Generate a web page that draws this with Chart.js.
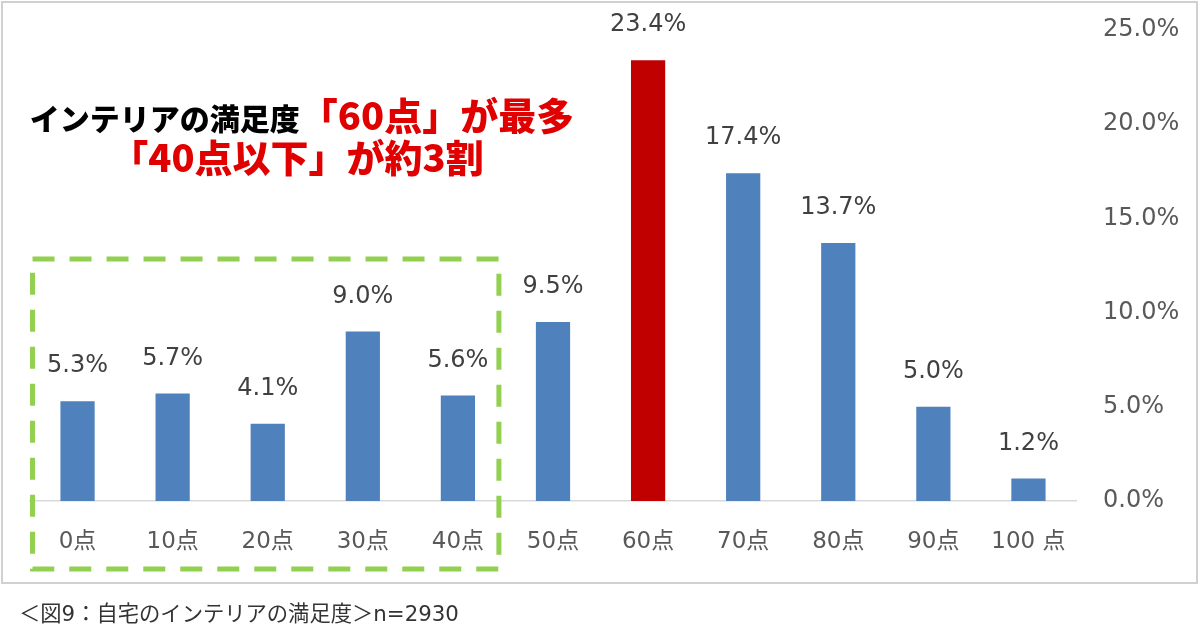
<!DOCTYPE html>
<html>
<head>
<meta charset="utf-8">
<script src="https://cdn.jsdelivr.net/npm/chart.js@4"></script>
<style>
  body { margin: 0; background: #fff; }
  #wrap { position: relative; width: 1200px; height: 641px; }
  #chart { position: absolute; left: 0; top: 0; }
  .title {
    position: absolute; left: 0; width: 604px; text-align: center;
    font-family: "Noto Sans CJK JP", sans-serif; font-weight: 900;
    color: #e00000; white-space: nowrap; line-height: 1;
  }
  .title .black { color: #000; font-size: 30px; }
  #t1 { top: 95px; font-size: 38px; }
  #t2 { top: 137px; font-size: 38px; left: -5px; }
  #caption {
    position: absolute; left: 19px; top: 596px;
    font-family: "DejaVu Sans", "Noto Sans CJK JP", sans-serif;
    font-size: 21.3px; color: #333;
  }
</style>
</head>
<body>
<div id="wrap">
  <canvas id="chart" width="1200" height="641"></canvas>
  <div class="title" id="t1"><span class="black">インテリアの満足度</span>「60点」が最多</div>
  <div class="title" id="t2">「40点以下」が約3割</div>
  <div id="caption">＜図9：自宅のインテリアの満足度＞n=2930</div>
</div>
<script>
// data
const categories = ['0点', '10点', '20点', '30点', '40点', '50点', '60点', '70点', '80点', '90点', '100 点'];
const shares = [5.3, 5.7, 4.1, 9.0, 5.6, 9.5, 23.4, 17.4, 13.7, 5.0, 1.2];
const yTicks = [0, 5, 10, 15, 20, 25];
const topCategory = '60点';
const boxedCategories = ['0点', '10点', '20点', '30点', '40点'];

const blue = '#4f81bd';
const red = '#c00000';
const barColors = categories.map(c => c === topCategory ? red : blue);

const numFont = '"DejaVu Sans", "Noto Sans CJK JP", sans-serif';

// white page + light grey frame
const framePlugin = {
  id: 'frame',
  beforeDraw(chart) {
    const ctx = chart.ctx;
    ctx.save();
    ctx.fillStyle = '#fff';
    ctx.fillRect(0, 0, chart.width, chart.height);
    ctx.strokeStyle = '#d0d0d0';
    ctx.lineWidth = 2;
    ctx.strokeRect(2, 2, 1195, 581);
    ctx.restore();
  }
};

// value labels above bars
const valueLabels = {
  id: 'valueLabels',
  afterDatasetsDraw(chart) {
    const ctx = chart.ctx;
    const meta = chart.getDatasetMeta(0);
    ctx.save();
    ctx.font = '24px ' + numFont;
    ctx.fillStyle = '#404040';
    ctx.textAlign = 'center';
    ctx.textBaseline = 'middle';
    meta.data.forEach((bar, i) => {
      ctx.fillText(shares[i].toFixed(1) + '%', bar.x, bar.y - 35);
    });
    ctx.restore();
  }
};

// green dashed box around the "40点以下" group
const dashedBox = {
  id: 'dashedBox',
  afterDraw(chart) {
    const x = chart.scales.x;
    const first = x.getPixelForValue(categories.indexOf(boxedCategories[0]));
    const last = x.getPixelForValue(categories.indexOf(boxedCategories[boxedCategories.length - 1]));
    const ctx = chart.ctx;
    ctx.save();
    ctx.strokeStyle = '#92d050';
    ctx.lineWidth = 5;
    ctx.setLineDash([22, 15]);
    ctx.strokeRect(first - 45, 259, (last + 41) - (first - 45), 310);
    ctx.restore();
  }
};

new Chart(document.getElementById('chart'), {
  type: 'bar',
  data: {
    labels: categories,
    datasets: [{
      data: shares,
      backgroundColor: barColors,
      barPercentage: 0.36,
      categoryPercentage: 1
    }]
  },
  options: {
    responsive: false,
    animation: false,
    devicePixelRatio: 1,
    layout: { padding: { left: 30, top: 30, right: 0, bottom: 0 } },
    plugins: {
      legend: { display: false },
      tooltip: { enabled: false }
    },
    scales: {
      x: {
        grid: { display: false, drawTicks: false },
        border: { color: '#d9d9d9', width: 1.5 },
        ticks: {
          color: '#595959',
          font: { family: numFont, size: 23 },
          padding: 27,
          maxRotation: 0
        },
        afterFit(scale) { scale.height = 140; }
      },
      y: {
        position: 'right',
        min: yTicks[0],
        max: yTicks[yTicks.length - 1],
        grid: { display: false, drawTicks: true, tickLength: 22 },
        border: { display: false },
        afterBuildTicks(scale) { scale.ticks = yTicks.map(v => ({ value: v })); },
        ticks: {
          color: '#595959',
          font: { family: numFont, size: 24 },
          padding: 5,
          callback: v => v.toFixed(1) + '%'
        },
        afterFit(scale) { scale.width = 124; }
      }
    }
  },
  plugins: [framePlugin, valueLabels, dashedBox]
});
</script>
</body>
</html>
